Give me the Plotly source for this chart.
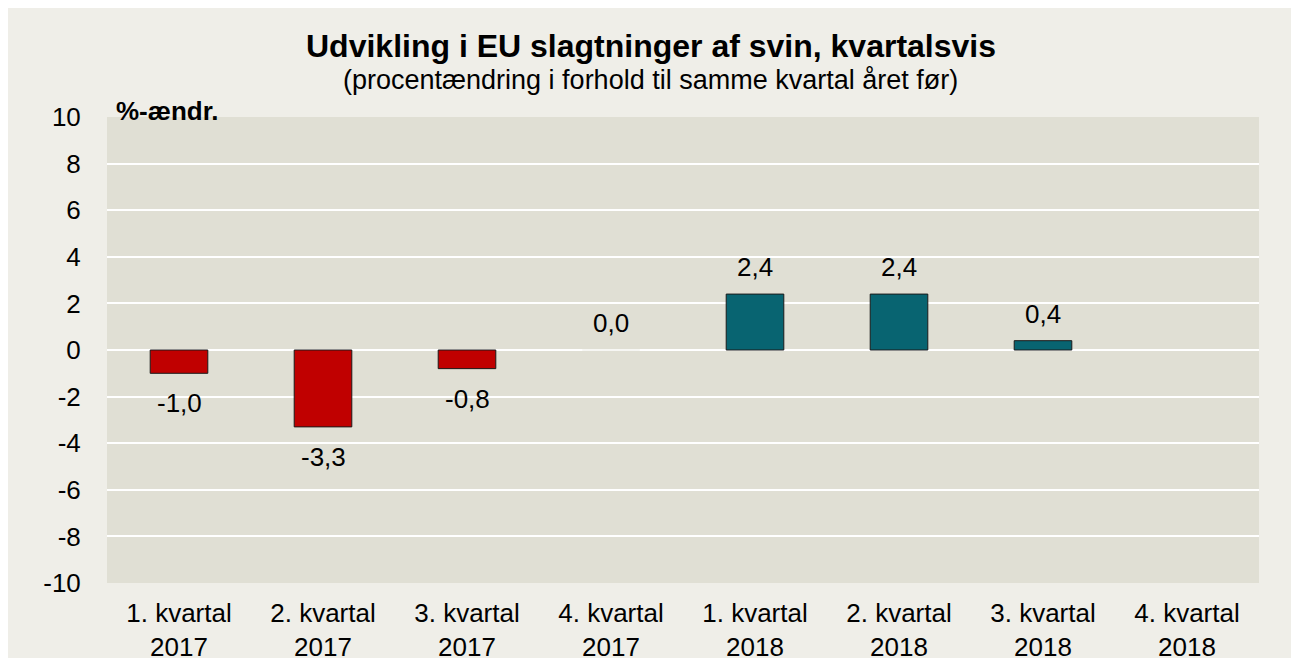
import plotly.graph_objects as go

categories = ["1. kvartal<br>2017", "2. kvartal<br>2017", "3. kvartal<br>2017", "4. kvartal<br>2017",
              "1. kvartal<br>2018", "2. kvartal<br>2018", "3. kvartal<br>2018", "4. kvartal<br>2018"]
values = [-1.0, -3.3, -0.8, 0.0, 2.4, 2.4, 0.4, None]
y_ticks = [-10, -8, -6, -4, -2, 0, 2, 4, 6, 8, 10]
y_tick_labels = ["-10", "-8", "-6", "-4", "-2", "0", "2", "4", "6", "8", "10"]

RED = "#C00000"
TEAL = "#086471"
OUTER_BG = "#EFEEE8"
PLOT_BG = "#E0DFD4"
FONT = "Liberation Sans, Arial, sans-serif"

# figure sits at page offset (8, 8) because of the default body margin
OFF = 8
W, H = 1285, 650
L, R, T, B = 99, 34, 109, 75
pw = W - L - R
ph = H - T - B


def px_x(page_x):
    return (page_x - OFF - L) / pw


def px_y(page_y):
    return (H - B - (page_y - OFF)) / ph


colors = [RED if (v is not None and v < 0) else TEAL for v in values]
line_colors = ["#F4F4F0" if v == 0 else "#1a1a1a" for v in values]

fig = go.Figure()
fig.add_trace(go.Bar(
    x=categories, y=values,
    marker=dict(color=colors, line=dict(color=line_colors, width=1)),
    width=0.4, hoverinfo="x+y",
))

annotations = []
for c, v in zip(categories, values):
    if v is None:
        continue
    annotations.append(dict(
        x=c, y=v, xref="x", yref="y",
        text=f"{v:.1f}".replace(".", ","),
        showarrow=False, yanchor="middle",
        yshift=-30 if v < 0 else 27,
        font=dict(size=26, color="#000000", family=FONT),
    ))

annotations.append(dict(
    x=px_x(650), xref="paper", y=px_y(80), yref="paper",
    text="(procentændring i forhold til samme kvartal året før)",
    showarrow=False, yanchor="middle", xanchor="center",
    font=dict(size=27, color="#000000", family=FONT),
))
annotations.append(dict(
    x=px_x(114), xref="paper", y=px_y(111), yref="paper",
    text="<b>%-ændr.</b>", showarrow=False, xanchor="left", yanchor="middle",
    font=dict(size=26, color="#000000", family=FONT),
))

fig.update_layout(
    width=W, height=H,
    margin=dict(l=L, r=R, t=T, b=B, autoexpand=False),
    paper_bgcolor=OUTER_BG,
    plot_bgcolor=PLOT_BG,
    showlegend=False,
    bargap=0.6,
    title=dict(
        text="<b>Udvikling i EU slagtninger af svin, kvartalsvis</b>",
        x=(651 - OFF) / W, xref="container", xanchor="center",
        y=1 - (46 - OFF) / H, yref="container", yanchor="middle",
        font=dict(size=32, color="#000000", family=FONT),
    ),
    font=dict(family=FONT, color="#000000"),
    annotations=annotations,
    xaxis=dict(
        automargin=False,
        showgrid=False, zeroline=False, showline=False,
        tickfont=dict(size=26, color="#000000", family=FONT),
        ticks="outside", ticklen=7, tickcolor="rgba(0,0,0,0)",
    ),
    yaxis=dict(
        automargin=False,
        range=[-10, 10],
        tickvals=y_ticks, ticktext=y_tick_labels,
        showgrid=True, gridcolor="#FFFFFF", gridwidth=2,
        zeroline=True, zerolinecolor="#FFFFFF", zerolinewidth=2,
        showline=False,
        tickfont=dict(size=26, color="#000000", family=FONT),
        ticks="outside", ticklen=20, tickcolor="rgba(0,0,0,0)",
    ),
)

fig.write_html("out.html")
